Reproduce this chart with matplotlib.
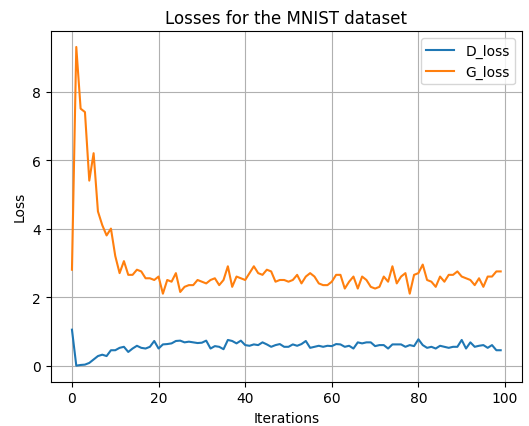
import matplotlib
matplotlib.use("Agg")
import matplotlib.pyplot as plt

iterations = list(range(100))

d_loss = [
    1.05, 0.00, 0.02, 0.03, 0.08, 0.18, 0.28, 0.32, 0.28, 0.45,
    0.45, 0.52, 0.55, 0.40, 0.50, 0.58, 0.52, 0.50, 0.55, 0.72,
    0.50, 0.62, 0.63, 0.65, 0.72, 0.73, 0.68, 0.70, 0.68, 0.66,
    0.67, 0.73, 0.50, 0.57, 0.55, 0.48, 0.75, 0.72, 0.65, 0.73,
    0.60, 0.58, 0.62, 0.60, 0.68, 0.62, 0.55, 0.60, 0.63, 0.55,
    0.55, 0.62, 0.58, 0.63, 0.72, 0.52, 0.55, 0.58, 0.55, 0.58,
    0.57, 0.63, 0.62, 0.55, 0.58, 0.50, 0.68, 0.65, 0.68, 0.68,
    0.57, 0.60, 0.60, 0.50, 0.62, 0.62, 0.62, 0.55, 0.60, 0.57,
    0.77, 0.60, 0.52, 0.55, 0.50, 0.58, 0.55, 0.52, 0.55, 0.55,
    0.75, 0.50, 0.68, 0.55, 0.58, 0.60, 0.52, 0.60, 0.45, 0.45,
]

g_loss = [
    2.80, 9.30, 7.50, 7.40, 5.40, 6.20, 4.50, 4.10, 3.80, 4.00,
    3.20, 2.70, 3.05, 2.65, 2.65, 2.80, 2.75, 2.55, 2.55, 2.50,
    2.60, 2.10, 2.50, 2.45, 2.70, 2.15, 2.30, 2.35, 2.35, 2.50,
    2.45, 2.40, 2.50, 2.55, 2.35, 2.50, 2.90, 2.30, 2.60, 2.55,
    2.50, 2.70, 2.90, 2.70, 2.65, 2.80, 2.75, 2.45, 2.50, 2.50,
    2.45, 2.50, 2.65, 2.40, 2.60, 2.70, 2.60, 2.40, 2.35, 2.35,
    2.45, 2.65, 2.65, 2.25, 2.45, 2.60, 2.25, 2.60, 2.50, 2.30,
    2.25, 2.30, 2.60, 2.45, 2.90, 2.40, 2.60, 2.70, 2.10, 2.65,
    2.70, 2.95, 2.50, 2.45, 2.30, 2.60, 2.45, 2.65, 2.65, 2.75,
    2.60, 2.55, 2.50, 2.35, 2.55, 2.30, 2.60, 2.60, 2.75, 2.75,
]

fig, ax = plt.subplots(figsize=(5.29, 4.27), dpi=100)
fig.subplots_adjust(left=0.0955, right=0.987, top=0.925, bottom=0.104)

ax.plot(iterations, d_loss, label="D_loss")
ax.plot(iterations, g_loss, label="G_loss")
ax.set_title("Losses for the MNIST dataset")
ax.set_xlabel("Iterations")
ax.set_ylabel("Loss")
ax.grid(True)
ax.legend(loc="upper right")

fig.savefig("out.png", dpi=100)
